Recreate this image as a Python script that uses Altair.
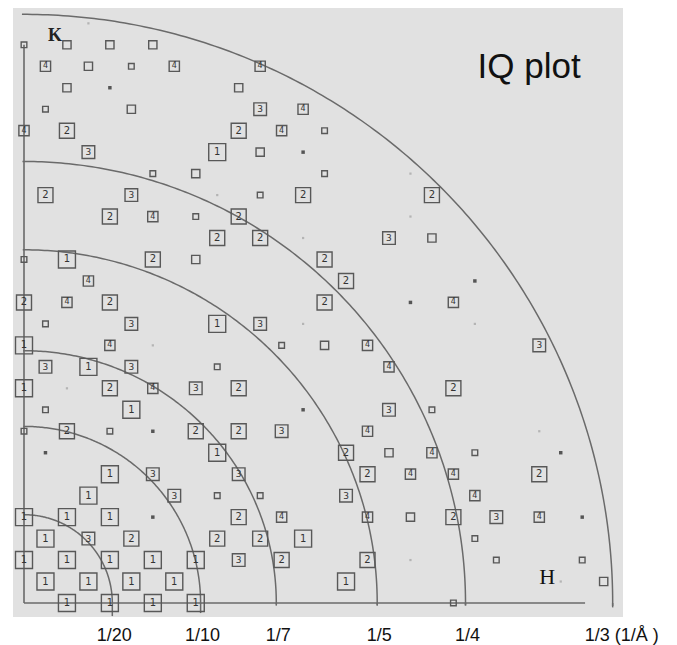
import altair as alt
import numpy as np
import pandas as pd

# ---------------- data ----------------
# spacing of the (centred) reciprocal lattice, in 1/Å
A_STAR = 0.012157

# one entry per lattice row k: the h indices of the spots on that row,
# and the mark at each spot ("1".."4" boxed order label, "m"/"s" empty
# box medium/small, "d" dark dot, "f" faint dot)
row_k = [27, 26, 25, 24, 23, 22, 21, 20, 19, 18, 17, 16, 15, 14,
         13, 12, 11, 10, 9, 8, 7, 6, 5, 4, 3, 2, 1, 0]
row_h = [
    [3],
    [0, 2, 4, 6],
    [1, 3, 5, 7, 11],
    [2, 4, 10],
    [1, 5, 11, 13],
    [0, 2, 10, 12, 14],
    [3, 9, 11, 13],
    [6, 8, 14, 18],
    [1, 5, 9, 11, 13, 19],
    [4, 6, 8, 10, 18],
    [9, 11, 13, 17, 19],
    [0, 2, 6, 8, 14],
    [3, 15, 21],
    [0, 2, 4, 14, 18, 20],
    [1, 5, 9, 11, 13, 21],
    [0, 4, 6, 12, 14, 16, 24],
    [1, 3, 5, 9, 17],
    [0, 2, 4, 6, 8, 10, 20],
    [1, 5, 13, 17, 19],
    [0, 2, 4, 6, 8, 10, 12, 16, 24],
    [1, 9, 15, 17, 19, 21, 25],
    [4, 6, 10, 16, 18, 20, 24],
    [3, 7, 9, 11, 15, 21],
    [0, 2, 4, 6, 10, 12, 16, 18, 20, 22, 24, 26],
    [1, 3, 5, 9, 11, 13, 21],
    [0, 2, 4, 6, 8, 10, 12, 16, 18, 22, 26],
    [1, 3, 5, 7, 15, 25, 27],
    [2, 4, 6, 8, 20],
]
row_kind = [
    "f",
    "smmm",
    "4ms44",
    "mdm",
    "sm34",
    "4224s",
    "31md",
    "smsf",
    "23fs22",
    "24s2f",
    "22f3m",
    "s12m2",
    "42d",
    "2422d4",
    "s313ff",
    "14fsm43",
    "313s4",
    "1f24322f",
    "s1d3s",
    "s2sd2234f",
    "d12m4sd",
    "1332442",
    "13ss34",
    "111d244m234d",
    "132221s",
    "11111322fss",
    "11111fm",
    "1111s",
]

ring_q = [1 / 20, 1 / 10, 1 / 7, 1 / 5, 1 / 4, 1 / 3]
ring_labels = ["1/20", "1/10", "1/7", "1/5", "1/4", "1/3 (1/Å )"]
ring_tick_low = [-0.0074, -0.0057, -0.0015, -0.0015, -0.0015, -0.0025]

axis_h_len = 0.3177          # extent of the H axis line, 1/Å
axis_k_len = 26 * A_STAR     # extent of the K axis line, 1/Å

annot_text = ["K", "H", "IQ plot"]
annot_x = [0.0176, 0.2962, 0.2860]
annot_y = [0.3211, 0.0147, 0.2973]

# ---------------- tables ----------------
recs = []
for k, hs, kinds in zip(row_k, row_h, row_kind):
    for h, c in zip(hs, kinds):
        recs.append({"qx": h * A_STAR, "qy": k * A_STAR, "kind": c})
spots = pd.DataFrame(recs)

arc_rows = []
for r in ring_q:
    for t in np.linspace(-0.3, 90.2, 181):
        a = np.deg2rad(t)
        arc_rows.append({"ring": r, "t": t, "qx": r * np.cos(a), "qy": r * np.sin(a)})
arcs = pd.DataFrame(arc_rows)

ticks = pd.DataFrame({"qx": ring_q, "qy": [0.0] * len(ring_q), "qy2": ring_tick_low,
                      "label": ring_labels})
axes_df = pd.DataFrame({"qx": [0.0, 0.0], "qy": [0.0, 0.0],
                        "qx2": [axis_h_len, 0.0], "qy2": [0.0, axis_k_len]})
annots = pd.DataFrame({"text": annot_text, "qx": annot_x, "qy": annot_y})

# ---------------- scales ----------------
xs = alt.Scale(domain=[-0.00623, 0.33918], nice=False, zero=False)
ys = alt.Scale(domain=[-0.00793, 0.33692], nice=False, zero=False)
LINE = "#6a6a6a"
BOX = "#585858"

base_x = alt.X("qx:Q", scale=xs, axis=None)
base_y = alt.Y("qy:Q", scale=ys, axis=None)

arc_layer = alt.Chart(arcs).mark_line(color=LINE, strokeWidth=1.5).encode(
    x=base_x, y=base_y, detail="ring:N", order="t:Q")

axis_layer = alt.Chart(axes_df).mark_rule(color=LINE, strokeWidth=1.6).encode(
    x=base_x, y=base_y, x2="qx2:Q", y2="qy2:Q")

tick_layer = alt.Chart(ticks).mark_rule(color=LINE, strokeWidth=1.5).encode(
    x=base_x, y=base_y, y2="qy2:Q")

box_layer = alt.Chart(spots).transform_filter(
    alt.FieldOneOfPredicate(field="kind", oneOf=["1", "2", "3", "4", "m", "s"])
).mark_point(shape="square", filled=False, color=BOX, strokeWidth=1.4, opacity=1).encode(
    x=base_x, y=base_y,
    size=alt.Size("kind:N", scale=alt.Scale(type="ordinal",
                                            domain=["1", "2", "3", "4", "m", "s"],
                                            range=[289, 225, 160, 105, 68, 32]), legend=None))

dot_layer = alt.Chart(spots).transform_filter(
    alt.FieldOneOfPredicate(field="kind", oneOf=["d", "f"])
).mark_square(opacity=1).encode(
    x=base_x, y=base_y,
    size=alt.Size("kind:N", scale=alt.Scale(type="ordinal", domain=["d", "f"], range=[12, 5]),
                  legend=None),
    color=alt.Color("kind:N", scale=alt.Scale(domain=["d", "f"], range=["#555555", "#b4b4b4"]),
                    legend=None))

num_layer = alt.Chart(spots).transform_filter(
    alt.FieldOneOfPredicate(field="kind", oneOf=["1", "2", "3", "4"])
).mark_text(font="DejaVu Sans", color="#333333", baseline="middle", align="center").encode(
    x=base_x, y=base_y, text="kind:N",
    size=alt.Size("kind:N", scale=alt.Scale(type="ordinal", domain=["1", "2", "3", "4"],
                                            range=[10, 10, 9, 8]), legend=None))

lab_main = alt.Chart(ticks.iloc[:5]).mark_text(
    font="Liberation Sans", fontSize=18, color="#111111", baseline="alphabetic", align="center", dx=2
).encode(x=base_x, y=alt.value(633), text="label:N")

lab_last = alt.Chart(ticks.iloc[5:]).mark_text(
    font="Liberation Sans", fontSize=18, color="#111111", baseline="alphabetic", align="left", dx=-28
).encode(x=base_x, y=alt.value(633), text="label:N")

k_layer = alt.Chart(annots.iloc[:1]).mark_text(
    font="Liberation Serif", fontWeight="bold", fontSize=18, color="#222222", baseline="middle"
).encode(x=base_x, y=base_y, text="text:N")
h_layer = alt.Chart(annots.iloc[1:2]).mark_text(
    font="Liberation Serif", fontSize=22, color="#111111", baseline="middle"
).encode(x=base_x, y=base_y, text="text:N")
iq_layer = alt.Chart(annots.iloc[2:3]).mark_text(
    font="Liberation Sans", fontSize=35, color="#111111", baseline="alphabetic"
).encode(x=base_x, y=base_y, text="text:N")

chart = alt.layer(
    arc_layer, axis_layer, tick_layer, box_layer, dot_layer, num_layer,
    lab_main, lab_last, k_layer, h_layer, iq_layer
).resolve_scale(
    size="independent", color="independent"
).properties(
    width=610, height=609,
    background="white",
    autosize=alt.AutoSizeParams(type="none"),
    padding={"left": 5, "top": 0, "right": 46, "bottom": 28},
).configure_view(fill="#e1e1e1", strokeWidth=0)

chart.save("out.html", embed_options={"renderer": "svg", "actions": False})
